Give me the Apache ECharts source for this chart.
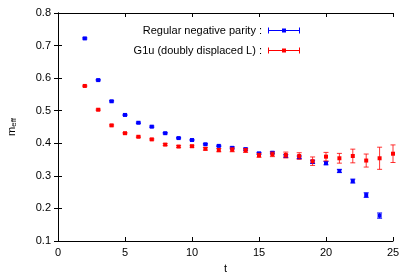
<!DOCTYPE html>
<html>
<head>
<meta charset="utf-8">
<script src="https://cdn.jsdelivr.net/npm/echarts@6/dist/echarts.min.js"></script>
<style>
html,body{margin:0;padding:0;background:#fff;}
#chart{width:413px;height:274px;}
</style>
</head>
<body>
<div id="chart"></div>
<script>
const tBlue = [2,3,4,5,6,7,8,9,10,11,12,13,14,15,16,17,18,19,20,21,22,23,24];
const blueVals = [0.722,0.594,0.529,0.487,0.463,0.451,0.431,0.416,0.410,0.397,0.392,0.386,0.382,0.369,0.371,0.361,0.357,0.343,0.339,0.315,0.284,0.241,0.178];
const blueErrs = [0.002,0.002,0.002,0.002,0.002,0.002,0.002,0.002,0.002,0.002,0.002,0.003,0.003,0.003,0.003,0.004,0.004,0.005,0.005,0.005,0.006,0.007,0.008];

const tRed = [2,3,4,5,6,7,8,9,10,11,12,13,14,15,16,17,18,19,20,21,22,23,24,25];
const redVals = [0.576,0.503,0.455,0.431,0.420,0.412,0.396,0.390,0.391,0.383,0.379,0.380,0.378,0.363,0.366,0.364,0.361,0.345,0.359,0.354,0.361,0.347,0.354,0.368];
const redErrs = [0.002,0.002,0.002,0.002,0.002,0.002,0.003,0.003,0.003,0.004,0.005,0.006,0.006,0.006,0.007,0.009,0.010,0.013,0.013,0.015,0.021,0.020,0.034,0.027];

const seriesNames = ['Regular negative parity', 'G1u (doubly displaced L)'];
const xTicks = {min: 0, max: 25, interval: 5};
const yTicks = {min: 0.1, max: 0.8, interval: 0.1};

const FONT = '"Liberation Sans", Arial, Helvetica, sans-serif';
const chart = echarts.init(document.getElementById('chart'), null, {renderer: 'canvas'});

function makeRender(color, barColor) {
  return function (params, api) {
    const x = api.value(0), y = api.value(1), e = api.value(2);
    const p = api.coord([x, y]);
    const lo = api.coord([x, y - e]);
    const hi = api.coord([x, y + e]);
    const cw = 2.5, s = 2;
    return {
      type: 'group',
      children: [
        {type: 'line', shape: {x1: p[0], y1: lo[1], x2: p[0], y2: hi[1]}, style: {stroke: barColor, lineWidth: 1}},
        {type: 'line', shape: {x1: p[0] - cw, y1: lo[1], x2: p[0] + cw, y2: lo[1]}, style: {stroke: barColor, lineWidth: 1}},
        {type: 'line', shape: {x1: p[0] - cw, y1: hi[1], x2: p[0] + cw, y2: hi[1]}, style: {stroke: barColor, lineWidth: 1}},
        {type: 'rect', shape: {x: p[0] - s, y: p[1] - s, width: 2 * s, height: 2 * s}, style: {fill: color}}
      ]
    };
  };
}

const legendIcon = 'path://M0,2.5h32v1h-32z M0,0h1v6h-1z M31,0h1v6h-1z M14,1h4v4h-4z';

function axisCommon(extra) {
  return Object.assign({
    type: 'value',
    axisLine: {show: true, lineStyle: {color: '#000', width: 1}},
    axisTick: {show: true, inside: true, length: 4, lineStyle: {color: '#000'}},
    splitLine: {show: false}
  }, extra);
}

const option = {
  animation: false,
  backgroundColor: '#fff',
  grid: {left: 58, right: 20, top: 13, bottom: 33, containLabel: false, outerBoundsMode: 'none'},
  legend: [
    {
      data: [seriesNames[0]], right: 108, top: 20, orient: 'vertical', align: 'right',
      icon: legendIcon, itemWidth: 32, itemHeight: 6, itemGap: 0,
      formatter: n => n + ' :',
      textStyle: {fontSize: 11, color: '#000', fontFamily: FONT, padding: [0, 1, 0, 0]},
      selectedMode: false
    },
    {
      data: [seriesNames[1]], right: 108, top: 40, orient: 'vertical', align: 'right',
      icon: legendIcon, itemWidth: 32, itemHeight: 6, itemGap: 0,
      formatter: n => n + ' :',
      textStyle: {fontSize: 11, color: '#000', fontFamily: FONT, padding: [0, 1, 0, 0]},
      selectedMode: false
    }
  ],
  xAxis: [
    axisCommon({
      position: 'bottom', min: xTicks.min, max: xTicks.max, interval: xTicks.interval,
      axisLabel: {fontSize: 11, color: '#000', fontFamily: FONT, margin: 6},
      name: 't', nameLocation: 'middle', nameGap: 22,
      nameTextStyle: {fontSize: 11, color: '#000', fontFamily: FONT}
    }),
    axisCommon({
      position: 'top', min: xTicks.min, max: xTicks.max, interval: xTicks.interval,
      axisLabel: {show: false}
    })
  ],
  yAxis: [
    axisCommon({
      position: 'left', min: yTicks.min, max: yTicks.max, interval: yTicks.interval,
      axisLabel: {fontSize: 11, color: '#000', fontFamily: FONT, margin: 7, formatter: v => v.toFixed(1)},
      name: '{m|m}{s|eff}', nameLocation: 'middle', nameGap: 40,
      nameTextStyle: {
        fontFamily: FONT, color: '#000',
        rich: {m: {fontSize: 11, fontFamily: FONT, color: '#000'}, s: {fontSize: 8, fontFamily: FONT, color: '#000', padding: [5, 0, 0, 0]}}
      }
    }),
    axisCommon({
      position: 'right', min: yTicks.min, max: yTicks.max, interval: yTicks.interval,
      axisLabel: {show: false}
    })
  ],
  series: [
    {
      name: seriesNames[0], type: 'custom', xAxisIndex: 0, yAxisIndex: 0,
      itemStyle: {color: '#0000ff'},
      renderItem: makeRender('#0000ff', '#0000ff'),
      encode: {x: 0, y: 1},
      data: tBlue.map((t, i) => [t, blueVals[i], blueErrs[i]]),
      clip: false
    },
    {
      name: seriesNames[1], type: 'custom', xAxisIndex: 0, yAxisIndex: 0,
      itemStyle: {color: '#ff0000'},
      renderItem: makeRender('#ff0000', 'rgba(255,0,0,0.8)'),
      encode: {x: 0, y: 1},
      data: tRed.map((t, i) => [t, redVals[i], redErrs[i]]),
      clip: false
    }
  ]
};
chart.setOption(option);
</script>
</body>
</html>
